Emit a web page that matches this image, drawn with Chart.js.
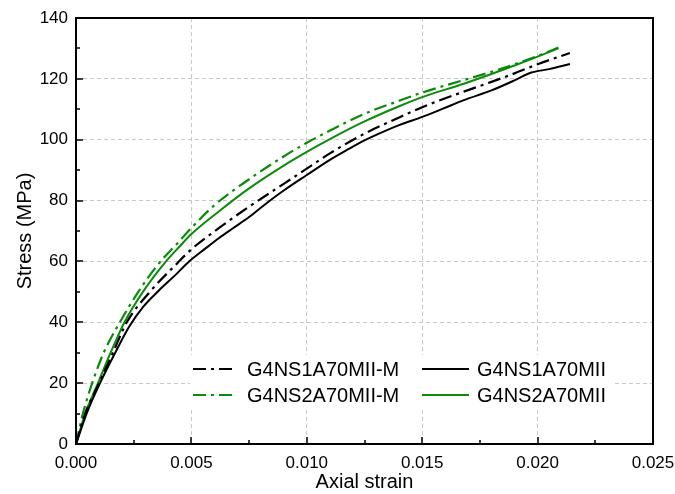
<!DOCTYPE html>
<html>
<head>
<meta charset="utf-8">
<script src="https://cdn.jsdelivr.net/npm/chart.js@4/dist/chart.umd.min.js"></script>
<style>
  html, body { margin: 0; padding: 0; background: #fff; }
  #wrap { width: 675px; height: 494px; }
</style>
</head>
<body>
<div id="wrap"><canvas id="chart" width="675" height="494"></canvas></div>
<script>
// strain / stress readings for each specimen
const s1mStrain = [0, 0.0004, 0.001, 0.0016, 0.0022, 0.0032, 0.0044, 0.005, 0.0062, 0.0075, 0.009, 0.010, 0.011, 0.0125, 0.014, 0.015, 0.0168, 0.018, 0.019, 0.020, 0.0214];
const s1mStress = [0, 10, 20, 30, 40, 50, 59.5, 64, 71, 78, 85.5, 90.5, 95.5, 102, 107.3, 110.7, 115.8, 119, 121.8, 124.8, 128.5];

const s1Strain = [0, 0.00046, 0.00104, 0.0017, 0.0023, 0.0029, 0.0036, 0.0043, 0.0049, 0.0056, 0.0062, 0.0068, 0.0075, 0.0082, 0.009, 0.010, 0.011, 0.0118, 0.0125, 0.0133, 0.014, 0.015, 0.0159, 0.0168, 0.018, 0.019, 0.0197, 0.0205, 0.0214];
const s1Stress = [0, 10, 20, 30, 38.5, 45, 50.5, 55.5, 60, 64.2, 67.7, 70.9, 74.6, 78.8, 83.3, 88.4, 93.4, 96.9, 99.8, 102.6, 104.8, 107.5, 110.2, 113, 116.2, 119.5, 122, 123.2, 124.9];

const s2mStrain = [0, 0.0003, 0.0007, 0.0012, 0.0019, 0.0027, 0.0035, 0.0044, 0.005, 0.006, 0.0075, 0.009, 0.010, 0.011, 0.0125, 0.014, 0.015, 0.0168, 0.018, 0.019, 0.020, 0.0209];
const s2mStress = [0, 10, 20, 30, 40, 50, 58.5, 66, 71, 78.5, 87, 94.5, 99, 103, 108.5, 112.8, 115.5, 119.6, 122.3, 124.8, 127.5, 130.3];

const s2Strain = [0, 0.0004, 0.00095, 0.0015, 0.0021, 0.0029, 0.0039, 0.0045, 0.005, 0.0062, 0.0075, 0.009, 0.010, 0.011, 0.0125, 0.014, 0.015, 0.0168, 0.018, 0.019, 0.020, 0.0209];
const s2Stress = [0, 10, 20, 30, 40, 50, 60, 65, 69, 76.5, 84, 91.5, 96, 100.2, 106, 111, 114, 118.4, 121.6, 124.4, 127.3, 130];

const seriesNames = ['G4NS1A70MII-M', 'G4NS1A70MII', 'G4NS2A70MII-M', 'G4NS2A70MII'];

const green = '#0b8a0b';
const dashDot = [13, 5, 3, 5];

function pts(xs, ys) {
    return xs.map((v, i) => ({ x: v, y: ys[i] }));
}

const datasets = [
    { label: seriesNames[0], data: pts(s1mStrain, s1mStress), borderColor: '#000', borderWidth: 2.2, borderDash: dashDot },
    { label: seriesNames[1], data: pts(s1Strain, s1Stress), borderColor: '#000', borderWidth: 2, borderDash: [] },
    { label: seriesNames[2], data: pts(s2mStrain, s2mStress), borderColor: green, borderWidth: 2.2, borderDash: dashDot },
    { label: seriesNames[3], data: pts(s2Strain, s2Stress), borderColor: green, borderWidth: 2, borderDash: [] },
];

// frame, inward ticks and the in-plot legend
const decor = {
    id: 'decor',
    beforeDatasetsDraw(chart) {
        const ctx = chart.ctx;
        ctx.save();
        ctx.fillStyle = '#fff';
        ctx.fillRect(190, 355, 423, 55);
        ctx.restore();
    },
    afterDraw(chart) {
        const { ctx, chartArea: a, scales: { x, y } } = chart;
        ctx.save();
        ctx.strokeStyle = '#000';
        ctx.lineWidth = 2;
        ctx.setLineDash([]);
        ctx.strokeRect(a.left, a.top, a.right - a.left, a.bottom - a.top);

        ctx.lineWidth = 1.5;
        ctx.beginPath();
        for (let v = 0; v <= 0.025 + 1e-9; v += 0.0025) {
            const px = Math.round(x.getPixelForValue(v));
            const major = Math.round(v / 0.0025) % 2 === 0;
            ctx.moveTo(px, a.bottom);
            ctx.lineTo(px, a.bottom - (major ? 7 : 4));
        }
        for (let v = 0; v <= 140; v += 10) {
            const py = Math.round(y.getPixelForValue(v));
            const major = v % 20 === 0;
            ctx.moveTo(a.left, py);
            ctx.lineTo(a.left + (major ? 7 : 4), py);
        }
        ctx.stroke();

        // legend
        const rows = [[0, 1], [2, 3]];
        const rowY = [369, 395];
        const lineX = [[193, 237], [422, 469]];
        const textX = [247, 477];
        ctx.font = '20px "Liberation Sans", Arial, sans-serif';
        ctx.textBaseline = 'middle';
        ctx.fillStyle = '#000';
        rows.forEach((r, ri) => {
            r.forEach((di, ci) => {
                const ds = datasets[di];
                ctx.beginPath();
                ctx.strokeStyle = ds.borderColor;
                ctx.lineWidth = ds.borderWidth;
                ctx.setLineDash(ds.borderDash);
                ctx.moveTo(lineX[ci][0], rowY[ri]);
                ctx.lineTo(lineX[ci][1], rowY[ri]);
                ctx.stroke();
                ctx.fillText(ds.label, textX[ci], rowY[ri] + 1);
            });
        });
        ctx.restore();
    }
};

const tickFont = { family: '"Liberation Sans", Arial, sans-serif', size: 17 };
const titleFont = { family: '"Liberation Sans", Arial, sans-serif', size: 20 };

new Chart(document.getElementById('chart').getContext('2d'), {
    type: 'line',
    data: { datasets: datasets },
    options: {
        responsive: false,
        animation: false,
        layout: { padding: { left: 0, right: 22, top: 18, bottom: 0 } },
        elements: {
            point: { radius: 0 },
            line: { cubicInterpolationMode: 'monotone', fill: false },
        },
        plugins: {
            legend: { display: false },
            tooltip: { enabled: false },
        },
        scales: {
            x: {
                type: 'linear',
                min: 0,
                max: 0.025,
                ticks: {
                    stepSize: 0.005,
                    color: '#000',
                    font: tickFont,
                    padding: 9,
                    maxRotation: 0,
                    autoSkip: false,
                    callback: (v) => v.toFixed(3),
                },
                grid: { color: '#c8c8c8', lineWidth: 1, drawTicks: false },
                border: { display: false, dash: [4, 3] },
                title: { display: true, text: 'Axial strain', color: '#000', font: titleFont, padding: { top: 0, bottom: 0 } },
                afterFit: (scale) => {
                    scale.height = 50;
                    scale.paddingLeft = 0;
                    scale.paddingRight = 0;
                },
            },
            y: {
                min: 0,
                max: 140,
                ticks: {
                    stepSize: 20,
                    color: '#000',
                    font: tickFont,
                    padding: 8,
                },
                grid: { color: '#c8c8c8', lineWidth: 1, drawTicks: false },
                border: { display: false, dash: [4, 3] },
                title: { display: true, text: 'Stress (MPa)', color: '#000', font: titleFont, padding: { top: 13, bottom: 0 } },
                afterFit: (scale) => {
                    scale.width = 76;
                    scale.paddingTop = 0;
                    scale.paddingBottom = 0;
                },
            },
        },
    },
    plugins: [decor],
});
</script>
</body>
</html>
